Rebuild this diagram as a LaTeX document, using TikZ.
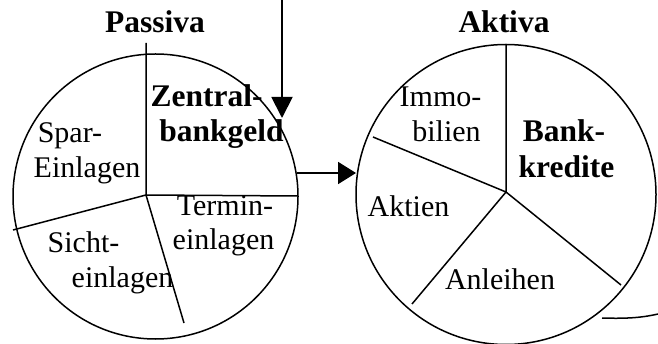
\documentclass[tikz,border=0pt]{standalone}
\usepackage{fontspec}
\setmainfont{Liberation Serif}
\usetikzlibrary{arrows.meta}
\begin{document}
\begin{tikzpicture}[x=1pt,y=-1pt,
  lbl/.style={anchor=base,inner sep=0pt,font=\fontsize{30}{36}\selectfont},
  blbl/.style={anchor=base,inner sep=0pt,font=\fontsize{31.5}{36}\selectfont\bfseries},
  seg/.style={line width=1.5pt},
  pie/.style={circle,draw,line width=1.5pt,inner sep=0pt},
  flowa/.style={line width=1.9pt,-{Triangle[length=21pt,width=21pt]}},
  flowb/.style={line width=1.9pt,-{Triangle[length=18pt,width=22pt]}}]
\useasboundingbox (0,0) rectangle (658,344);
% circles
\node[pie,minimum size=285pt] (L) at (155.5,196.5) {};
\node[pie,minimum size=300pt] (R) at (506,194.5) {};
% left segments
\coordinate (lh) at (146,195);
\coordinate (lt) at (146,43);
\coordinate (lr) at (298,196);
\coordinate (ll) at (13,230);
\coordinate (lb) at (184,323);
\draw[seg] (lt) -- (lh) -- (lr);
\draw[seg] (ll) -- (lh) -- (lb);
% right segments
\coordinate (rh) at (506,192);
\coordinate (rt) at (506,45);
\coordinate (rul) at (373,137);
\coordinate (rlr) at (621,285);
\coordinate (rll) at (412,304);
\draw[seg] (rt) -- (rh) -- (rul);
\draw[seg] (rlr) -- (rh) -- (rll);
% arrows
\coordinate (topin) at (282,0);
\coordinate (tipa) at (282,118);
\draw[flowa] (topin) -- (tipa);
\coordinate (mstart) at (297,173);
\coordinate (tipb) at (356,173);
\draw[flowb] (mstart) -- (tipb);
% outgoing curve
\coordinate (cs) at (602,318);
\coordinate (ce) at (658,314);
\draw[seg] (cs) .. controls (630,319) and (645,317) .. (ce);
% labels
\node[blbl] (passiva) at (155,33) {Passiva};
\node[blbl] (aktiva) at (504,33) {Aktiva};
\node[blbl] (zen1) at (206.5,107) {Zentral-};
\node[blbl] (zen2) at (221.5,142) {bankgeld};
\node[lbl] (spar1) at (70,143) {Spar-};
\node[lbl] (spar2) at (87,178) {Einlagen};
\node[lbl] (ter1) at (225,216) {Termin-};
\node[lbl] (ter2) at (223.5,250) {einlagen};
\node[lbl] (si1) at (83.5,253) {Sicht-};
\node[lbl] (si2) at (122.5,288) {einlagen};
\node[lbl] (im1) at (440.5,107) {Immo-};
\node[lbl] (im2) at (446.5,142) {bilien};
\node[blbl] (bk1) at (564,142) {Bank-};
\node[blbl] (bk2) at (566.5,178) {kredite};
\node[lbl] (akt) at (408.5,217) {Aktien};
\node[lbl] (anl) at (500,290) {Anleihen};
\end{tikzpicture}
\end{document}
